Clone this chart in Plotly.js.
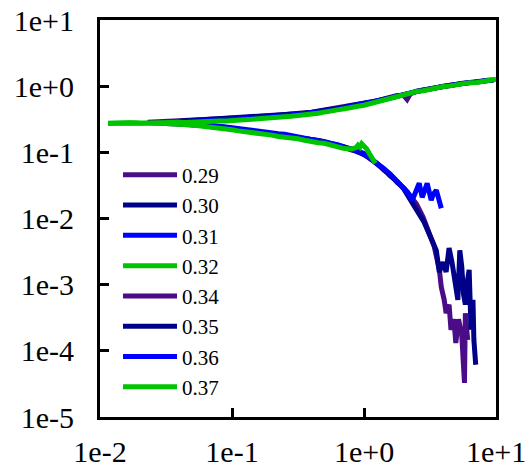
<!DOCTYPE html>
<html>
<head>
<meta charset="utf-8">
<script src="https://cdn.plot.ly/plotly-3.0.1.min.js"></script>
<style>
html,body{margin:0;padding:0;background:#fff;}
#chart{width:530px;height:476px;}
#chart svg text{font-family:'Liberation Serif','Times New Roman',serif !important;}
</style>
</head>
<body>
<div id="chart"></div>
<script>
// ---- data ----
const seriesNames = ["0.29", "0.30", "0.31", "0.32", "0.34", "0.35", "0.36", "0.37"];

// lower branch
const x029 = [0.023,0.026,0.03,0.034,0.04,0.045,0.05,0.056,0.063,0.071,0.08,0.09,0.1,0.112,0.126,0.141,0.158,0.178,0.2,0.224,0.25,0.28,0.316,0.355,0.4,0.45,0.5,0.56,0.63,0.71,0.8,0.9,1.0,1.12,1.26,1.41,1.58,1.78,2.0,2.24,2.5,2.8,3.1,3.4,3.72,3.85,4.05,4.19,4.41,4.56,4.8,4.96,5.2,5.5,5.77,5.86,6.1];
const y029 = [0.282,0.279,0.281,0.277,0.275,0.270,0.268,0.262,0.258,0.251,0.246,0.238,0.233,0.225,0.221,0.213,0.208,0.200,0.196,0.188,0.184,0.176,0.172,0.164,0.160,0.151,0.146,0.136,0.129,0.118,0.112,0.101,0.094,0.079,0.068,0.054,0.046,0.035,0.029,0.022,0.0165,0.0105,0.0064,0.0038,0.0017,0.00092,0.00059,0.00037,0.0005,0.000208,0.0003,0.000131,0.0003,0.000174,0.0000327,0.00037,0.000146];

const x030 = [0.04,0.045,0.05,0.056,0.063,0.071,0.08,0.09,0.1,0.112,0.126,0.141,0.158,0.178,0.2,0.224,0.25,0.28,0.316,0.355,0.4,0.45,0.5,0.56,0.63,0.71,0.8,0.9,1.0,1.12,1.26,1.41,1.58,1.78,2.0,2.32,2.62,2.86,3.1,3.4,3.53,3.72,3.98,4.19,4.41,4.64,4.88,5.14,5.32,5.5,5.68,5.86,6.05,6.26,6.47,6.69,6.8,7.02];
const y030 = [0.270,0.268,0.263,0.260,0.253,0.248,0.240,0.235,0.228,0.222,0.214,0.210,0.202,0.198,0.190,0.187,0.179,0.175,0.167,0.163,0.156,0.151,0.142,0.136,0.125,0.119,0.109,0.103,0.092,0.081,0.066,0.056,0.044,0.0365,0.028,0.017,0.012,0.0087,0.006,0.0036,0.0033,0.00155,0.00219,0.00155,0.00357,0.00219,0.00099,0.00059,0.0033,0.0019,0.00071,0.0005,0.00109,0.00167,0.000208,0.00059,0.000146,0.0000617];

const x031 = [0.046,0.05,0.056,0.063,0.071,0.08,0.09,0.1,0.112,0.126,0.141,0.158,0.178,0.2,0.224,0.25,0.28,0.316,0.355,0.4,0.45,0.5,0.56,0.63,0.71,0.8,0.9,1.0,1.12,1.26,1.41,1.58,1.78,2.0,2.14,2.32,2.5,2.62,2.76,2.91,3.01,3.23,3.35,3.53,3.72,3.85];
const y031 = [0.275,0.272,0.266,0.262,0.254,0.249,0.241,0.236,0.228,0.224,0.215,0.211,0.203,0.199,0.191,0.187,0.179,0.176,0.167,0.163,0.154,0.149,0.139,0.131,0.121,0.114,0.104,0.096,0.082,0.069,0.057,0.047,0.037,0.030,0.0249,0.0189,0.0268,0.034,0.0209,0.0287,0.034,0.019,0.0233,0.0268,0.017,0.0143];

const x032 = [0.0115,0.013,0.015,0.017,0.02,0.023,0.026,0.03,0.034,0.04,0.045,0.05,0.056,0.063,0.071,0.08,0.09,0.1,0.112,0.126,0.141,0.158,0.178,0.2,0.224,0.25,0.28,0.316,0.355,0.4,0.45,0.5,0.56,0.63,0.71,0.8,0.87,0.9,0.93,0.96,1.0,1.05,1.1,1.16,1.22];
const y032 = [0.276,0.279,0.276,0.280,0.277,0.279,0.274,0.276,0.270,0.268,0.262,0.259,0.252,0.247,0.238,0.233,0.224,0.219,0.211,0.206,0.198,0.194,0.186,0.182,0.174,0.171,0.163,0.160,0.152,0.149,0.140,0.137,0.128,0.124,0.114,0.112,0.118,0.128,0.120,0.135,0.125,0.112,0.095,0.080,0.068];

// upper branch
const x034 = [0.023,0.026,0.03,0.034,0.04,0.045,0.05,0.056,0.063,0.071,0.08,0.09,0.1,0.112,0.126,0.141,0.158,0.178,0.2,0.224,0.25,0.28,0.316,0.355,0.4,0.45,0.5,0.56,0.63,0.71,0.8,0.9,1.0,1.12,1.26,1.41,1.58,1.78,2.0,2.12,2.24,2.5,2.8,3.16,3.55,4.0,4.5,5.0,5.6,6.3,7.1,8.0,9.0];
const y034 = [0.285,0.288,0.293,0.291,0.298,0.302,0.300,0.309,0.313,0.311,0.319,0.322,0.326,0.331,0.335,0.343,0.344,0.352,0.356,0.364,0.368,0.378,0.383,0.397,0.404,0.420,0.426,0.445,0.462,0.490,0.510,0.530,0.545,0.575,0.605,0.645,0.675,0.725,0.72,0.63,0.76,0.84,0.88,0.92,0.965,1.0,1.04,1.07,1.11,1.14,1.17,1.20,1.23];

const x035 = [0.04,0.045,0.05,0.056,0.063,0.071,0.08,0.09,0.1,0.112,0.126,0.141,0.158,0.178,0.2,0.224,0.25,0.28,0.316,0.355,0.4,0.45,0.5,0.56,0.63,0.71,0.8,0.9,1.0,1.12,1.26,1.41,1.58,1.78,2.0,2.24,2.5,2.8,3.16,3.55,4.0,4.5,5.0,5.6,6.3,7.1,8.0,9.0,9.5];
const y035 = [0.296,0.300,0.303,0.305,0.310,0.314,0.316,0.321,0.323,0.329,0.333,0.339,0.342,0.348,0.353,0.359,0.366,0.372,0.380,0.390,0.400,0.413,0.422,0.436,0.455,0.482,0.505,0.520,0.540,0.570,0.600,0.635,0.668,0.715,0.755,0.795,0.835,0.870,0.905,0.955,0.990,1.03,1.065,1.10,1.13,1.165,1.19,1.22,1.24];

const x036 = [0.046,0.05,0.056,0.063,0.071,0.08,0.09,0.1,0.112,0.126,0.141,0.158,0.178,0.2,0.224,0.25,0.28,0.316,0.355,0.4,0.45,0.5,0.56,0.63,0.71,0.8,0.9,1.0,1.12,1.26,1.41,1.58,1.78,2.0,2.24,2.5,2.8,3.16,3.55,4.0,4.5,5.0,5.6,6.3,7.1,8.0,8.6,9.6];
const y036 = [0.290,0.296,0.293,0.301,0.305,0.304,0.312,0.318,0.316,0.326,0.331,0.334,0.341,0.349,0.352,0.362,0.366,0.377,0.385,0.398,0.405,0.420,0.430,0.452,0.472,0.500,0.515,0.535,0.565,0.592,0.630,0.662,0.710,0.750,0.785,0.835,0.865,0.915,0.945,0.995,1.02,1.07,1.09,1.14,1.15,1.20,1.23,1.22];

const x037 = [0.0115,0.013,0.015,0.017,0.02,0.023,0.026,0.03,0.034,0.04,0.045,0.05,0.056,0.063,0.071,0.08,0.09,0.1,0.112,0.126,0.141,0.158,0.178,0.2,0.224,0.25,0.28,0.316,0.355,0.4,0.45,0.5,0.56,0.63,0.71,0.8,0.9,1.0,1.12,1.26,1.41,1.58,1.78,2.0,2.24,2.5,2.8,3.16,3.55,4.0,4.5,5.0,5.6,6.3,7.1,8.0,9.0,10.0];
const y037 = [0.272,0.276,0.274,0.277,0.275,0.279,0.277,0.281,0.279,0.284,0.283,0.288,0.286,0.292,0.294,0.298,0.297,0.304,0.306,0.314,0.315,0.322,0.325,0.333,0.336,0.345,0.350,0.360,0.366,0.381,0.389,0.405,0.412,0.438,0.455,0.486,0.497,0.515,0.548,0.582,0.606,0.654,0.690,0.745,0.772,0.830,0.855,0.910,0.935,0.990,1.01,1.06,1.08,1.13,1.14,1.19,1.21,1.27];

const seriesColors = ["#4B0C87", "#000088", "#0000FF", "#00C400", "#4B0C87", "#000088", "#0000FF", "#00C400"];

const xTickVals = [0.01, 0.1, 1, 10];
const xTickLabels = ["1e-2", "1e-1", "1e+0", "1e+1"];
const yTickVals = [1e-5, 1e-4, 1e-3, 1e-2, 1e-1, 1, 10];
const yTickLabels = ["1e-5", "1e-4", "1e-3", "1e-2", "1e-1", "1e+0", "1e+1"];

// ---- build traces ----
const xs = [x029, x030, x031, x032, x034, x035, x036, x037];
const ys = [y029, y030, y031, y032, y034, y035, y036, y037];
const traces = seriesNames.map((n, i) => ({
  type: "scatter", mode: "lines", name: n,
  x: xs[i], y: ys[i],
  line: { color: seriesColors[i], width: 5 }
}));

const axisCommon = {
  type: "log", showline: true, linewidth: 3, linecolor: "#000", mirror: true,
  ticks: "inside", ticklen: 9, tickwidth: 3, tickcolor: "#000",
  showgrid: false, zeroline: false,
  tickfont: { size: 30 }
};

const layout = {
  width: 530, height: 476,
  font: { family: "Liberation Serif", size: 30, color: "#000" },
  margin: { l: 100, r: 34, t: 20, b: 59, pad: 0 },
  paper_bgcolor: "#fff", plot_bgcolor: "#fff",
  showlegend: true,
  legend: {
    x: 0.0455, y: 0.661, xanchor: "left", yanchor: "top",
    bgcolor: "rgba(0,0,0,0)", borderwidth: 0,
    font: { size: 21 },
    itemwidth: 54, tracegroupgap: 0, traceorder: "normal"
  },
  xaxis: Object.assign({}, axisCommon, { range: [-2, 1], tickvals: xTickVals, ticktext: xTickLabels, ticklabelstandoff: 6 }),
  yaxis: Object.assign({}, axisCommon, { range: [-5, 1], tickvals: yTickVals, ticktext: yTickLabels, ticklabelstandoff: 17 })
};

Plotly.newPlot("chart", traces, layout, { displayModeBar: false, staticPlot: true });
</script>
</body>
</html>
